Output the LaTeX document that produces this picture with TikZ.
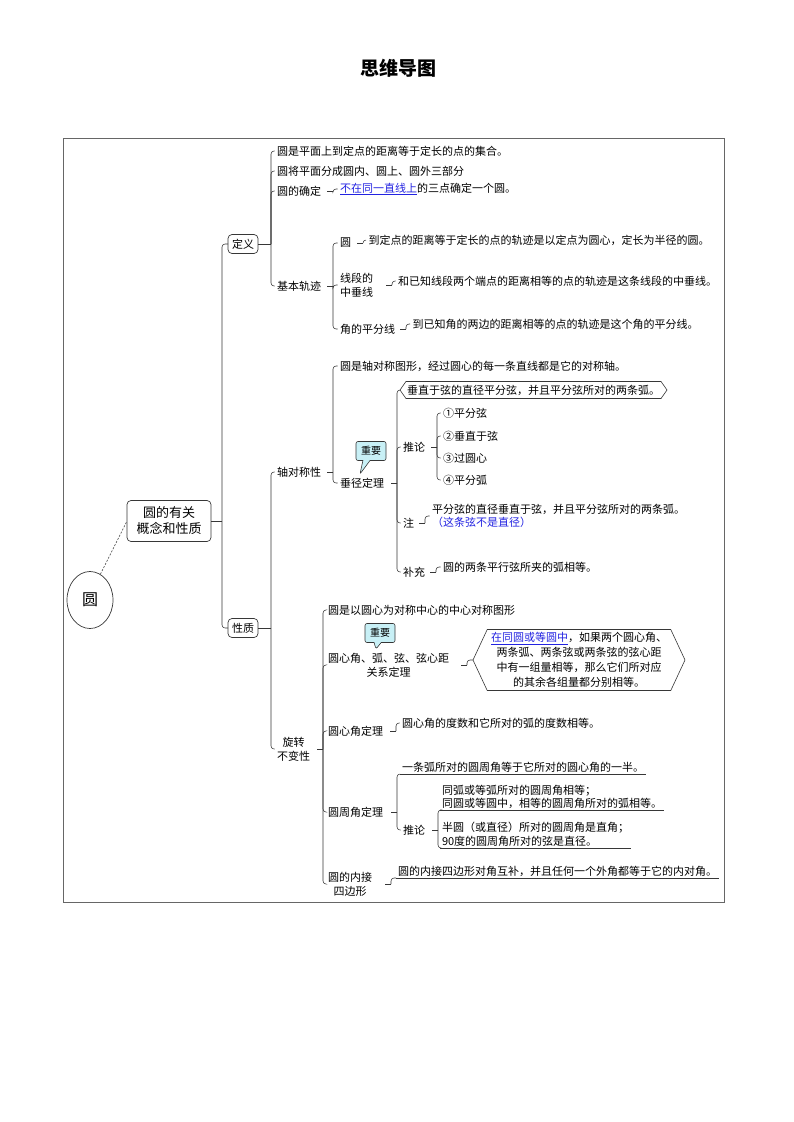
\documentclass[tikz,border=0pt]{standalone}
\usepackage{fontspec}
\setmainfont{Noto Sans CJK SC}
\usetikzlibrary{calc,shapes.geometric,shapes.symbols,shapes.callouts}
\definecolor{lnk}{RGB}{35,35,225}
\definecolor{ln}{RGB}{55,55,55}
\definecolor{callfill}{RGB}{200,240,246}
\newcommand\fs{\fontsize{11pt}{14pt}\selectfont}
% full connector (from a box)
\newcommand\conn[3]{\draw[br] (#1.east) -- (#1.east -| #2);\draw[br,rounded corners=3pt] (#1.east -| #2) |- (#3.west);}
% short-dash connector (from a text)
\newcommand\conns[3]{\draw[br] ($(#1.east -| #2)+(-6,0)$) -- (#1.east -| #2);\draw[br,rounded corners=3pt] (#1.east -| #2) |- (#3.west);}
\newcommand\connu[3]{\draw[br] ($(#1.east -| #2)+(-6,0)$) -- (#1.east -| #2);\draw[br,rounded corners=3pt] (#1.east -| #2) |- (#3.south west);}
\begin{document}
\begin{tikzpicture}[x=1pt,y=-1pt,
  tx/.style={anchor=west,inner sep=1pt,outer sep=1.5pt,font=\fs},
  ul/.style={anchor=south west,inner xsep=2pt,inner ysep=1.5pt,outer sep=0pt,font=\fs,align=left},
  br/.style={draw=ln,line width=0.55pt},
  topic/.style={draw=ln,rounded corners=4pt,line width=0.7pt,inner xsep=4pt,inner ysep=2pt,outer sep=0pt,font=\fs,minimum height=19},
  hexa/.style={signal,signal to=west and east,draw=ln,line width=0.6pt,font=\fs,inner sep=0pt,outer sep=0pt},
  callbox/.style={rectangle callout,draw=ln,fill=callfill,rounded corners=2pt,line width=0.6pt,font=\fontsize{10pt}{12pt}\selectfont,minimum width=30,minimum height=19,inner sep=1pt}]
\useasboundingbox (0,0) rectangle (793,1122);

% title
\node[font=\fontsize{19pt}{22pt}\selectfont\bfseries] (title) at (398,68) {思维导图};

% frame
\draw[draw=gray!80!black,line width=0.8pt] (63,138) rectangle (724,902);

% trunk coordinates
\coordinate (T0) at (222,0);
\coordinate (T1) at (271,0);
\coordinate (T2) at (333,0);
\coordinate (Te1) at (363,0);
\coordinate (Te2) at (392,0);
\coordinate (Te3) at (406,0);
\coordinate (Ta2) at (397,0);
\coordinate (Tb) at (437,0);
\coordinate (Tc) at (425,0);
\coordinate (Td) at (436,0);
\coordinate (Tr) at (323,0);
\coordinate (Tr2) at (467,0);
\coordinate (Tr3) at (396,0);
\coordinate (Tr4) at (397,0);
\coordinate (Tp) at (438,0);
\coordinate (Tr5) at (391,0);

% root
\node[ellipse,draw=ln,line width=0.7pt,minimum width=46,minimum height=57,inner sep=0pt,font=\fontsize{16pt}{18pt}\selectfont] (yuan) at (90,600) {圆};
\node[topic,align=center,minimum width=84,minimum height=41,font=\fontsize{13pt}{16pt}\selectfont] (gn) at (169,521) {圆的有关\\概念和性质};
\draw[ln,line width=0.6pt,dash pattern=on 2pt off 1.5pt] (yuan.68) -- (gn.west);

\node[topic] (dy) at (243,244) {定义};
\node[topic] (xz) at (243,628) {性质};
\conn{gn}{T0}{dy}
\conn{gn}{T0}{xz}

% ---- 定义
\node[tx] (d1) at (274.5,151) {圆是平面上到定点的距离等于定长的点的集合。};
\node[tx] (d2) at (274.5,171) {圆将平面分成圆内、圆上、圆外三部分};
\node[tx] (d3) at (274.5,191) {圆的确定};
\node[tx] (d3c) at (337.5,189) {{\color{lnk}\underline{不在同一直线上}}的三点确定一个圆。};
\node[tx] (d4) at (274.5,286) {基本轨迹};
\conn{dy}{T1}{d1}
\conn{dy}{T1}{d2}
\conn{dy}{T1}{d3}
\conn{dy}{T1}{d4}
\conns{d3}{T2}{d3c}

\node[tx] (e1) at (337.5,243) {圆};
\node[tx] (e1c) at (366,240) {到定点的距离等于定长的点的轨迹是以定点为圆心，定长为半径的圆。};
\node[tx,align=left] (e2) at (337.5,285) {线段的\\中垂线};
\node[tx] (e2c) at (395.5,281) {和已知线段两个端点的距离相等的点的轨迹是这条线段的中垂线。};
\node[tx] (e3) at (337.5,329) {角的平分线};
\node[tx] (e3c) at (410,324) {到已知角的两边的距离相等的点的轨迹是这个角的平分线。};
\conns{d4}{T2}{e1}
\conns{d4}{T2}{e2}
\conns{d4}{T2}{e3}
\conns{e1}{Te1}{e1c}
\conns{e2}{Te2}{e2c}
\conns{e3}{Te3}{e3c}

% ---- 性质 / 轴对称性
\node[tx] (a) at (274.5,472) {轴对称性};
\node[tx,align=center] (r) at (274.5,749) {旋转\\不变性};
\conn{xz}{T1}{a}
\conn{xz}{T1}{r}

\node[tx] (a1) at (337.5,366) {圆是轴对称图形，经过圆心的每一条直线都是它的对称轴。};
\node[tx] (a2) at (337.5,483) {垂径定理};
\conns{a}{T2}{a1}
\conns{a}{T2}{a2}
\node[callbox,callout absolute pointer={(360,474)}] (zy1) at (371,451) {重要};

\node[hexa,minimum width=267,minimum height=17,signal pointer angle=110] (h1) at (533.5,390) {垂直于弦的直径平分弦，并且平分弦所对的两条弧。};
\node[tx] (b) at (400.5,447) {推论};
\node[tx] (c) at (400.5,523) {注};
\node[tx] (d) at (400.5,572) {补充};
\conns{a2}{Ta2}{h1}
\conns{a2}{Ta2}{b}
\conns{a2}{Ta2}{c}
\conns{a2}{Ta2}{d}

\node[tx] (b1) at (440.5,413) {①平分弦};
\node[tx] (b2) at (440.5,436) {②垂直于弦};
\node[tx] (b3) at (440.5,458) {③过圆心};
\node[tx] (b4) at (440.5,480) {④平分弧};
\conns{b}{Tb}{b1}
\conns{b}{Tb}{b2}
\conns{b}{Tb}{b3}
\conns{b}{Tb}{b4}

\node[tx,align=left,font=\fontsize{11pt}{12.5pt}\selectfont] (c1) at (429.5,516) {平分弦的直径垂直于弦，并且平分弦所对的两条弧。\\{\color{lnk}（这条弦不是直径）}};
\conns{c}{Tc}{c1}
\node[tx] (dc) at (440.5,567) {圆的两条平行弦所夹的弧相等。};
\conns{d}{Td}{dc}

% ---- 旋转不变性
\node[tx] (r1) at (325.5,610) {圆是以圆心为对称中心的中心对称图形};
\node[tx,align=center] (r2) at (325.5,665) {圆心角、弧、弦、弦心距\\关系定理};
\node[tx] (r3) at (325.5,731) {圆心角定理};
\node[tx] (r4) at (325.5,812) {圆周角定理};
\node[tx,align=center] (r5) at (325.5,884) {圆的内接\\四边形};
\conns{r}{Tr}{r1}
\conns{r}{Tr}{r2}
\conns{r}{Tr}{r3}
\conns{r}{Tr}{r4}
\conns{r}{Tr}{r5}
\node[callbox,callout absolute pointer={(376,649)}] (zy2) at (380,633) {重要};

\node[hexa,align=center,minimum width=212,minimum height=61,signal pointer angle=130,font=\fontsize{11pt}{15pt}\selectfont] (h2) at (579,660) {{\color{lnk}\underline{在同圆或等圆中}}，如果两个圆心角、\\两条弧、两条弦或两条弦的弦心距\\中有一组量相等，那么它们所对应\\的其余各组量都分别相等。};
\conns{r2}{Tr2}{h2}

\node[tx] (r3c) at (399.5,723) {圆心角的度数和它所对的弧的度数相等。};
\conns{r3}{Tr3}{r3c}

\node[ul] (u1) at (400,774) {一条弧所对的圆周角等于它所对的圆心角的一半。};
\draw[br] (u1.south west) -- (u1.south east);
\node[tx] (p) at (400.5,830) {推论};
\connu{r4}{Tr4}{u1}
\conns{r4}{Tr4}{p}

\node[ul,font=\fontsize{11pt}{13pt}\selectfont] (u2) at (440,810) {同弧或等弧所对的圆周角相等；\\同圆或等圆中，相等的圆周角所对的弧相等。};
\draw[br] (u2.south west) -- (u2.south east);
\node[ul,font=\fontsize{11pt}{14pt}\selectfont] (u3) at (440,848) {半圆（或直径）所对的圆周角是直角；\\90度的圆周角所对的弦是直径。};
\draw[br] (u3.south west) -- (u3.south east);
\connu{p}{Tp}{u2}
\connu{p}{Tp}{u3}

\node[ul] (u4) at (396,878) {圆的内接四边形对角互补，并且任何一个外角都等于它的内对角。};
\draw[br] (u4.south west) -- (u4.south east);
\connu{r5}{Tr5}{u4}

\end{tikzpicture}
\end{document}
